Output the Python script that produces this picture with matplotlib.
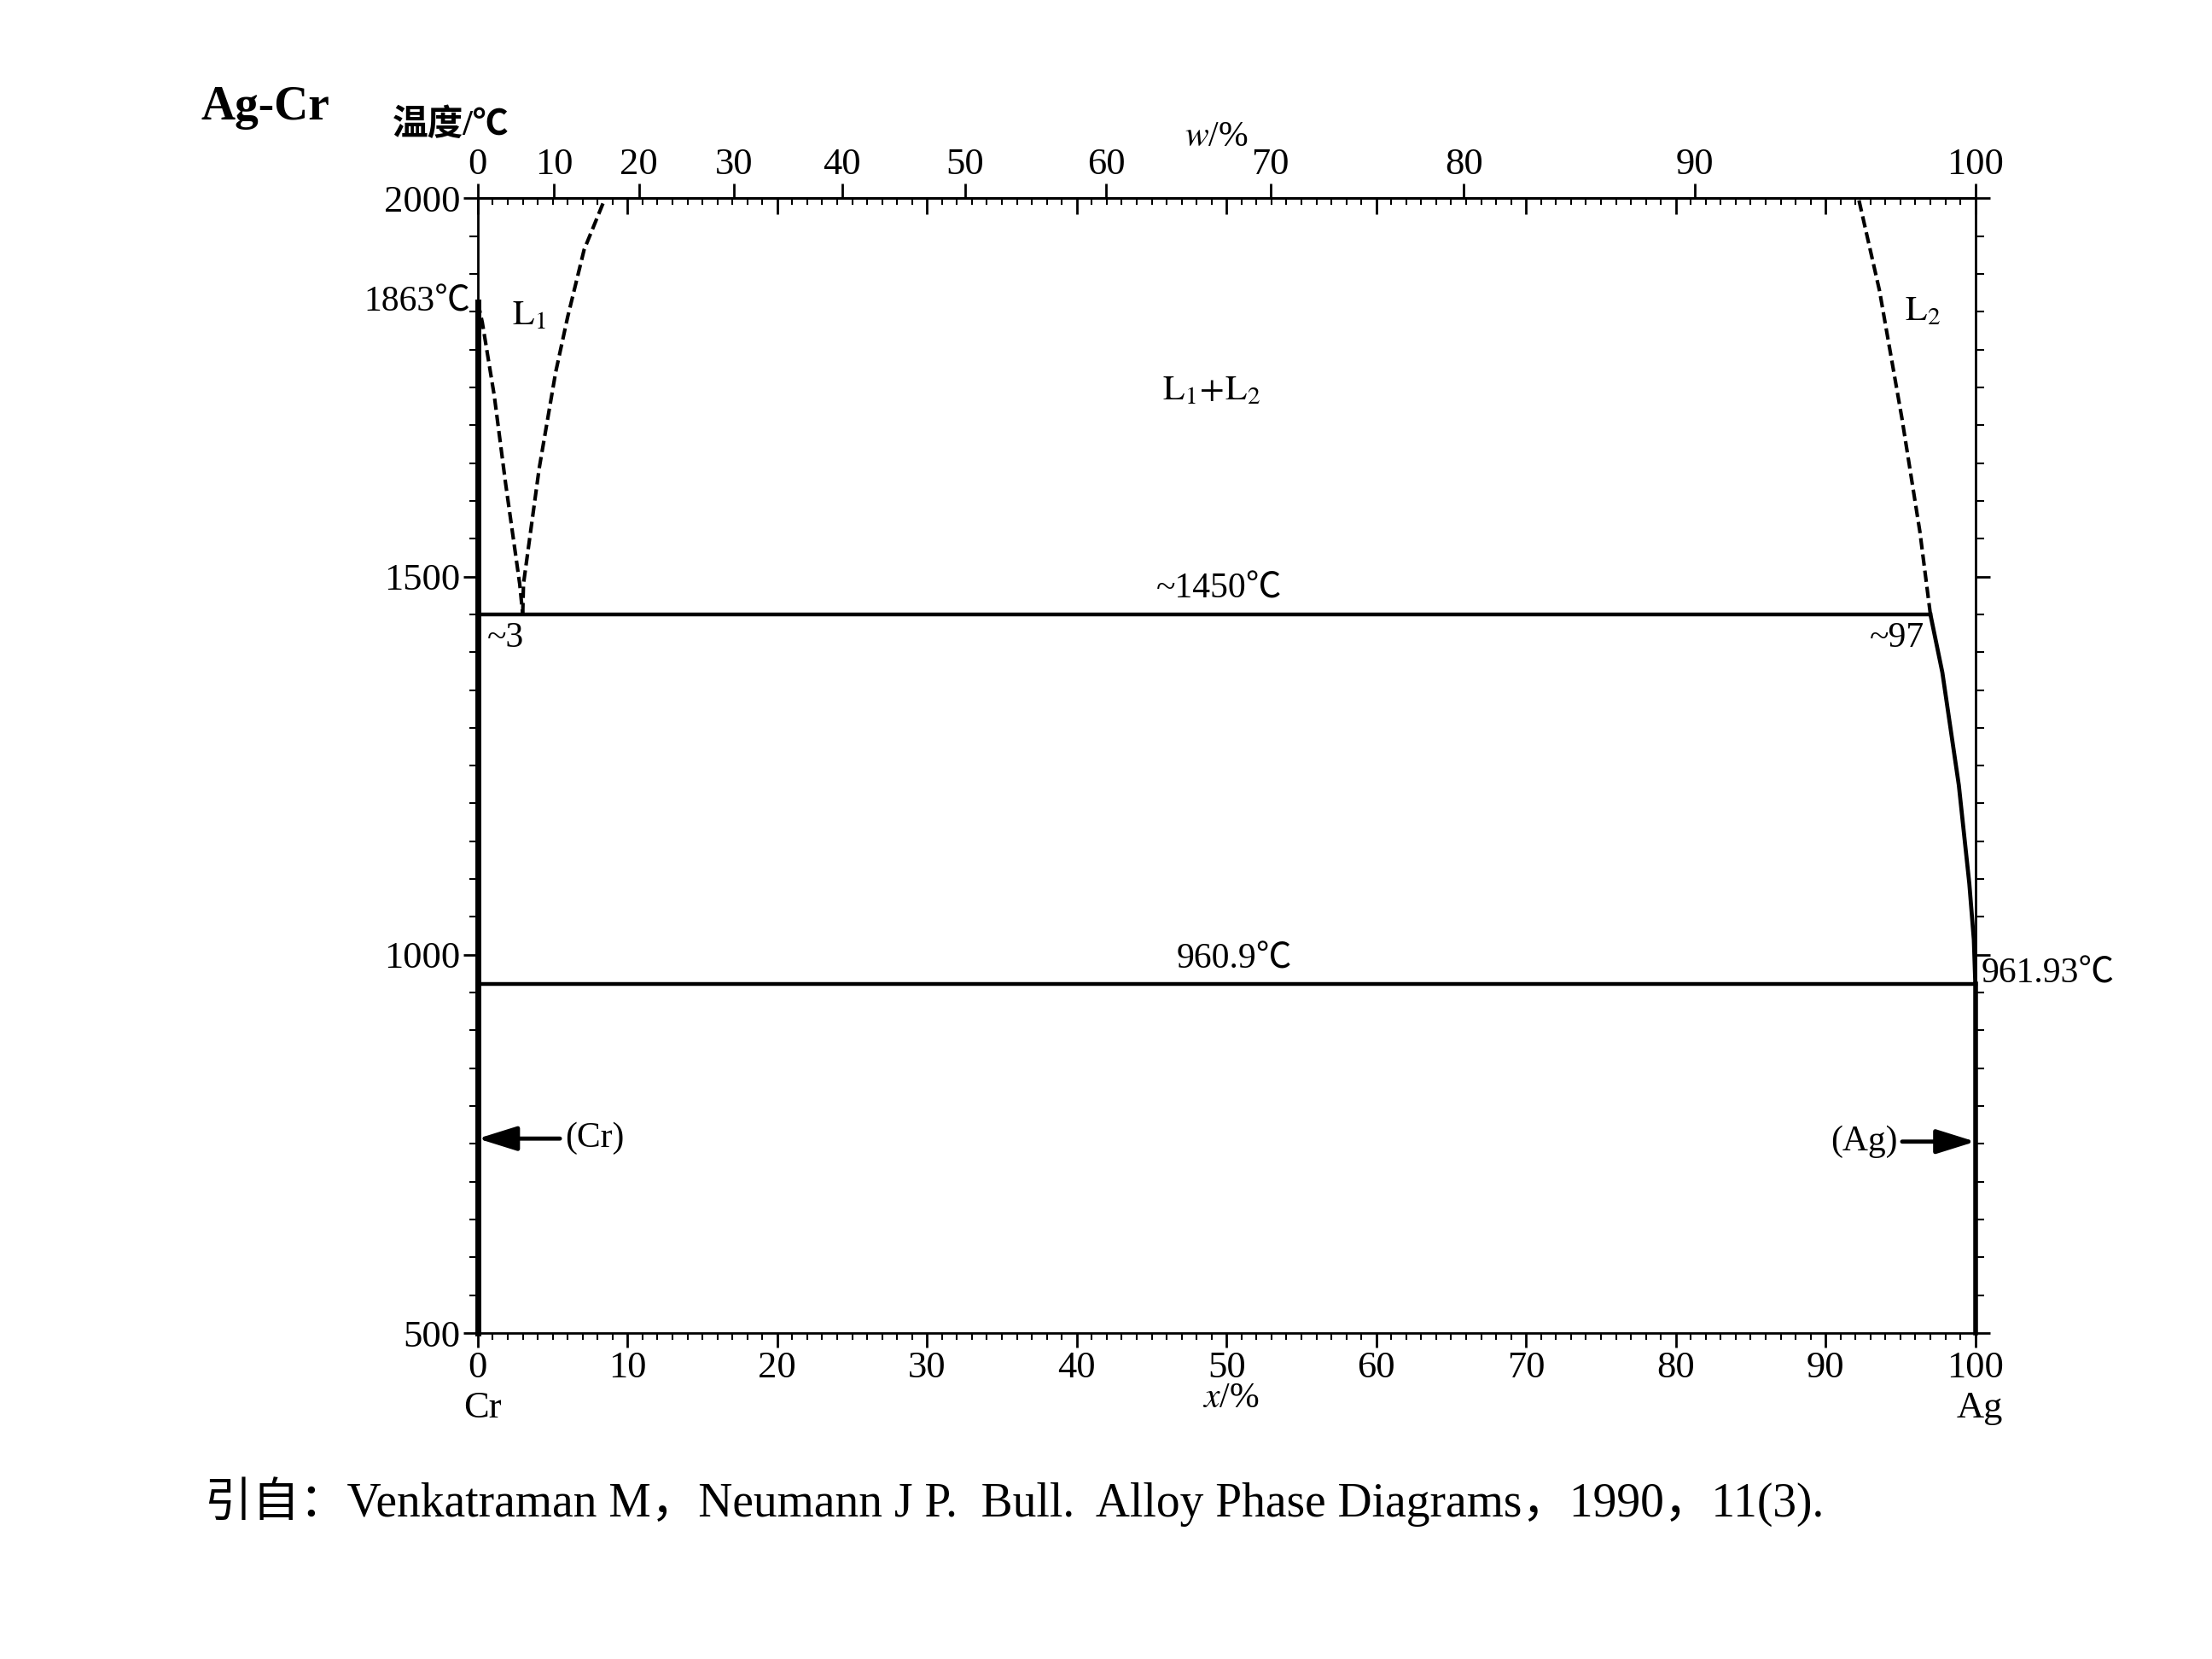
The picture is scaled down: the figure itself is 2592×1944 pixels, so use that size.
import matplotlib.pyplot as plt
import numpy as np
from matplotlib.ticker import NullLocator

# Ag-Cr phase diagram: x = at.% Ag, temperature in deg C
M_AG = 107.87
M_CR = 52.00

# boundaries (at.% Ag, deg C)
cr_liq_x = [0.0, 0.3, 1.1, 1.85, 2.8, 3.0]
cr_liq_t = [1863, 1836, 1739, 1624, 1490, 1450]

l1_gap_x = [3.0, 3.05, 4.1, 5.2, 6.0, 7.1, 8.5]
l1_gap_t = [1450, 1490, 1643, 1770, 1843, 1932, 2000]

l2_gap_x = [97.0, 96.3, 95.1, 93.6, 92.2]
l2_gap_t = [1450, 1559, 1709, 1878, 2000]

ag_liq_x = [97.0, 97.8, 98.9, 99.6, 99.9, 100.0]
ag_liq_t = [1450, 1373, 1224, 1094, 1020, 961.93]

monotectic_x = [0.0, 97.0]
monotectic_t = [1450, 1450]

eutectic_x = [0.0, 100.0]
eutectic_t = [960.9, 960.9]

cr_solvus_x = [0.0, 0.0]
cr_solvus_t = [1863, 500]

ag_solvus_x = [100.0, 100.0]
ag_solvus_t = [961.93, 500]

x_ticks = [0, 10, 20, 30, 40, 50, 60, 70, 80, 90, 100]
w_ticks = [0, 10, 20, 30, 40, 50, 60, 70, 80, 90, 100]
t_ticks = [500, 1000, 1500, 2000]


def at_to_wt(a):
    a = np.asarray(a, dtype=float)
    with np.errstate(divide='ignore', invalid='ignore'):
        return 100 * a * M_AG / (a * M_AG + (100 - a) * M_CR)


def wt_to_at(w):
    w = np.asarray(w, dtype=float)
    with np.errstate(divide='ignore', invalid='ignore'):
        return 100 * (w / M_AG) / (w / M_AG + (100 - w) / M_CR)


plt.rcParams['font.family'] = ['Liberation Serif', 'Noto Sans CJK SC']
plt.rcParams['mathtext.fontset'] = 'stix'

fig = plt.figure(figsize=(25.92, 19.44), dpi=100)
ax = fig.add_axes([0.216, 0.1965, 0.677, 0.684])
ax.set_xlim(0, 100)
ax.set_ylim(500, 2000)
for s in ax.spines.values():
    s.set_linewidth(2)

# bottom: at.%
ax.set_xticks(x_ticks, labels=[str(v) for v in x_ticks])
ax.set_xticks(np.arange(0, 101, 1), minor=True)
ax.tick_params(axis='x', which='major', direction='out', length=12, width=2,
               labelsize=32, pad=3)
ax.tick_params(axis='x', which='minor', direction='out', length=6, width=1.5)

# temperature, ticks on both sides
ax.set_yticks(t_ticks, labels=[str(v) for v in t_ticks])
ax.set_yticks(np.arange(500, 2001, 50), minor=True)
ax.tick_params(axis='y', which='both', direction='out', left=True, right=True)
ax.tick_params(axis='y', which='major', length=12, width=2, labelsize=32, pad=3)
ax.tick_params(axis='y', which='minor', length=7, width=1.5)

# top: at.% ticks pointing in, no labels
top_at = ax.secondary_xaxis('top')
top_at.set_ticks(x_ticks, labels=['' for v in x_ticks])
top_at.set_ticks(np.arange(0, 101, 1), minor=True)
top_at.tick_params(which='major', direction='in', length=14, width=2)
top_at.tick_params(which='minor', direction='in', length=6, width=1.5)
top_at.spines['top'].set_linewidth(2)

# top: wt.% scale
top_w = ax.secondary_xaxis('top', functions=(at_to_wt, wt_to_at))
top_w.set_ticks(w_ticks, labels=[str(v) for v in w_ticks])
top_w.xaxis.set_minor_locator(NullLocator())
top_w.tick_params(which='major', direction='out', length=12, width=2,
                  labelsize=32, pad=2)
top_w.spines['top'].set_linewidth(2)

dash = (0, (3.2, 1.4))
ax.plot(cr_liq_x, cr_liq_t, color='k', lw=3, ls=dash, clip_on=False)
ax.plot(l1_gap_x, l1_gap_t, color='k', lw=3, ls=dash, clip_on=False)
ax.plot(l2_gap_x, l2_gap_t, color='k', lw=3, ls=dash, clip_on=False)
ax.plot(ag_liq_x, ag_liq_t, color='k', lw=3.4, clip_on=False)
ax.plot(monotectic_x, monotectic_t, color='k', lw=3.2, clip_on=False)
ax.plot(eutectic_x, eutectic_t, color='k', lw=3.2, clip_on=False)
ax.plot(cr_solvus_x, cr_solvus_t, color='k', lw=5, clip_on=False)
ax.plot(ag_solvus_x, ag_solvus_t, color='k', lw=4, clip_on=False)

# labels inside the diagram
fs = 30
ax.text(-0.5, 1863, '1863℃', ha='right', va='center', fontsize=fs)
ax.text(3.4, 1845, r'$\mathrm{L}_1$', ha='center', va='center', fontsize=fs)
ax.text(49, 1745, r'$\mathrm{L}_1\!+\!\mathrm{L}_2$', ha='center', va='center', fontsize=fs)
ax.text(96.5, 1850, r'$\mathrm{L}_2$', ha='center', va='center', fontsize=fs)
ax.text(49.5, 1462, '~1450℃', ha='center', va='bottom', fontsize=fs)
ax.text(0.6, 1440, '~3', ha='left', va='top', fontsize=fs)
ax.text(96.6, 1440, '~97', ha='right', va='top', fontsize=fs)
ax.text(50.5, 972, '960.9℃', ha='center', va='bottom', fontsize=fs)
ax.text(100.4, 975, '961.93℃', ha='left', va='center', fontsize=fs)

arrow = dict(arrowstyle='-|>,head_length=0.8,head_width=0.25', lw=3.5,
             color='k', mutation_scale=35, shrinkA=2, shrinkB=0)
ax.annotate('(Cr)', xy=(0, 757), xytext=(5.8, 757), ha='left', va='center',
            fontsize=fs, arrowprops=arrow)
ax.annotate('(Ag)', xy=(100, 753), xytext=(94.8, 753), ha='right', va='center',
            fontsize=fs, arrowprops=arrow)

# axis names and element names
xt = ax.get_xaxis_transform()
ax.text(0.3, -0.066, 'Cr', transform=xt, ha='center', va='center', fontsize=32)
ax.text(100.3, -0.066, 'Ag', transform=xt, ha='center', va='center', fontsize=32)
ax.text(50.3, -0.058, r'$\mathit{x}$/%', transform=xt, ha='center', va='center', fontsize=30)
ax.text(49.3, 1.054, r'$\mathit{w}$/%', transform=xt, ha='center', va='center', fontsize=30)
ax.text(-0.018, 1.064, '温度/℃', transform=ax.transAxes, ha='center', va='center',
        fontsize=30, fontweight='bold')

fig.text(0.12, 0.935, 'Ag-Cr', ha='center', va='center', fontsize=40, fontweight='bold')
fig.text(0.0925, 0.095,
         '引自：Venkatraman M，Neumann J P.  Bull.  Alloy Phase Diagrams，1990，11(3).',
         ha='left', va='center', fontsize=40)

fig.savefig('out.png', dpi=100)
